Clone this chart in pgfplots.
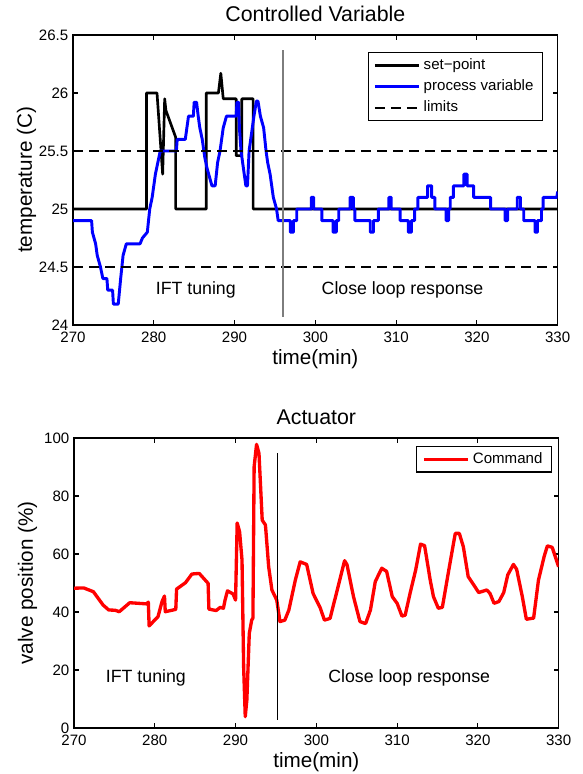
\documentclass[border=0pt]{standalone}
\usepackage{fontspec}
\setmainfont{Liberation Sans}
\usepackage{pgfplots}
\pgfplotsset{compat=1.18}
\definecolor{pvblue}{RGB}{0,0,255}
\definecolor{cmdred}{RGB}{255,0,0}
\definecolor{divgray}{RGB}{125,125,125}

\pgfplotsset{
  mlab/.style={
    scale only axis, width=363.5pt, height=217.5pt,
    xmin=270, xmax=330, xtick={270,280,...,330},
    axis line style={line width=0.8pt},
    every tick/.style={black, line width=0.8pt},
    major tick length=3.4pt,
    tick align=inside,
    /pgf/number format/assume math mode=true,
    tick label style={font=\fontsize{11.3}{13}\selectfont},
    xticklabel style={yshift=-2pt},
    label style={font=\fontsize{15.5}{18}\selectfont},
    xlabel style={at={(axis description cs:0.5,-0.117)}, anchor=center},
    ylabel style={at={(axis description cs:-0.096,0.5)}, anchor=center},
    every axis title shift=0pt,
    title style={at={(axis description cs:0.5,1.072)}, anchor=center, font=\fontsize{16}{19}\selectfont},
    legend cell align=left,
    legend image code/.code={\draw[##1] (0pt,0pt) -- (33pt,0pt);},
    legend style={draw=black, line width=0.8pt, fill=white,
      font=\fontsize{11.3}{13}\selectfont, inner xsep=4pt, inner ysep=2pt, row sep=1pt,
      nodes={text height=8.5pt, text depth=2.5pt, inner xsep=2.5pt, inner ysep=2pt}},
  }
}

\begin{document}
\begin{tikzpicture}
\useasboundingbox (0,0) rectangle (436.5pt,580.5pt);

% top: controlled variable
\begin{axis}[mlab,
  at={(54.75pt,336.75pt)}, anchor=south west,
  ymin=24, ymax=26.5, ytick={24,24.5,25,25.5,26,26.5},
  xlabel={time(min)}, ylabel={temperature (C)},
  title={Controlled Variable},
  legend style={at={(0.969,0.941)}, anchor=north east},
]
\addplot[black, line width=2pt, line join=round] coordinates {
 (270,25.0) (279.1,25.0) (279.1,26.0) (280.4,26.0) (281.1,25.3) (281.35,25.95)
 (281.5,25.85) (282.7,25.62) (282.7,25.0) (286.5,25.0) (286.5,26.0) (288.0,26.0)
 (288.3,26.17) (288.6,25.95) (290.2,25.95) (290.2,25.46) (290.9,25.46) (290.9,25.95)
 (292.3,25.95) (292.3,25.0) (330,25.0)};
\addlegendentry{set−point}
\addplot[pvblue, line width=2.2pt, line join=round] coordinates {
 (270,24.9) (272.3,24.9) (272.4,24.8) (272.8,24.7) (273.0,24.6) (273.4,24.5) (273.7,24.4)
 (274.2,24.4) (274.3,24.3) (274.9,24.3) (275.0,24.18) (275.6,24.18) (275.9,24.4) (276.2,24.6)
 (276.6,24.7) (278.3,24.7) (278.6,24.75) (279.2,24.8) (279.5,25.0) (279.8,25.1) (280.2,25.3)
 (280.5,25.4) (280.8,25.5) (282.8,25.5) (282.9,25.6) (283.9,25.6) (284.3,25.8) (284.9,25.8)
 (285.0,25.92) (285.3,25.92) (285.5,25.8) (285.7,25.7) (286.0,25.6) (286.3,25.45) (286.6,25.35)
 (287.2,25.2) (287.6,25.2) (287.9,25.4) (288.2,25.5) (288.6,25.7) (289.0,25.8) (290.2,25.8)
 (290.3,25.92) (290.5,25.92) (290.6,25.7) (290.8,25.5) (291.0,25.4) (291.2,25.3) (291.4,25.2)
 (291.6,25.2) (291.8,25.5) (292.1,25.65) (292.4,25.8) (292.7,25.93) (292.9,25.93) (293.2,25.8)
 (293.6,25.7) (293.9,25.5) (294.1,25.4) (294.4,25.3) (294.6,25.2) (294.8,25.1) (295.2,25.0)
 (295.4,24.9) (296.9,24.9) (296.9,24.8) (297.3,24.8) (297.3,24.9) (297.7,24.9) (297.7,25.0)
 (299.5,25.0) (299.5,25.1) (299.8,25.1) (299.8,25.0) (300.8,25.0) (300.8,24.9) (302.2,24.9)
 (302.2,24.8) (302.6,24.8) (302.6,24.9) (302.9,24.9) (302.9,25.0) (304.3,25.0) (304.3,25.1)
 (304.7,25.1) (304.7,25.0) (304.9,25.0) (304.9,24.9) (306.8,24.9) (306.8,24.8) (307.2,24.8)
 (307.2,24.9) (307.8,24.9) (307.8,25.0) (309.1,25.0) (309.1,25.1) (309.4,25.1) (309.4,25.0)
 (310.5,25.0) (310.5,24.9) (311.5,24.9) (311.5,24.8) (311.9,24.8) (311.9,24.9) (312.3,24.9)
 (312.3,25.0) (312.7,25.0) (312.7,25.1) (313.9,25.1) (313.9,25.2) (314.4,25.2) (314.4,25.1)
 (314.8,25.1) (314.8,25.0) (316.2,25.0) (316.2,24.9) (316.5,24.9) (316.5,25.0) (316.7,25.0)
 (316.7,25.1) (317.1,25.1) (317.1,25.2) (318.4,25.2) (318.4,25.3) (318.8,25.3) (318.8,25.2)
 (319.6,25.2) (319.6,25.1) (321.7,25.1) (321.7,25.0) (323.5,25.0) (323.5,24.9) (323.8,24.9)
 (323.8,25.0) (325.0,25.0) (325.0,25.1) (325.4,25.1) (325.4,25.0) (325.8,25.0) (325.8,24.9)
 (327.2,24.9) (327.2,24.8) (327.5,24.8) (327.5,24.9) (328.0,24.9) (328.0,25.0) (328.2,25.0)
 (328.2,25.1) (329.9,25.1) (330,25.15)};
\addlegendentry{process variable}
\addplot[black, line width=2pt, dash pattern=on 7.5pt off 4.5pt] coordinates {(270,25.5) (330,25.5)};
\addlegendentry{limits}
\addplot[black, line width=2pt, dash pattern=on 7.5pt off 4.5pt, forget plot] coordinates {(270,24.5) (330,24.5)};
\addplot[divgray, line width=0.9pt, forget plot] coordinates {(296.0,24.07) (296.0,26.37)};
\node[font=\fontsize{13.3}{16}\selectfont] at (axis cs:285.2,24.30) {IFT tuning};
\node[font=\fontsize{13.3}{16}\selectfont] at (axis cs:310.8,24.30) {Close loop response};
\end{axis}

% bottom: actuator
\begin{axis}[mlab,
  at={(55.5pt,34.5pt)}, anchor=south west,
  ymin=0, ymax=100, ytick={0,20,40,60,80,100},
  xlabel={time(min)}, ylabel={valve position (\%)},
  title={Actuator},
  legend style={at={(0.9855,0.972)}, anchor=north east},
]
\addplot[cmdred, line width=2.5pt, line join=round] coordinates {
 (270,48.2) (271.2,48.3) (272.4,47.0) (273.6,42.4) (274.3,40.7) (275.1,40.6) (275.6,40.1)
 (276.9,43.2) (279.0,42.8) (279.2,43.4) (279.3,35.2) (280.4,38.4) (280.9,43.6) (281.2,45.5)
 (281.3,40.1) (282.6,40.9) (282.7,47.9) (283.8,50.1) (284.6,53.1) (285.5,53.3) (286.6,49.9)
 (286.7,41.0) (287.6,40.5) (288.1,41.6) (288.5,41.3) (288.7,44.1) (289.0,47.3) (289.7,46.2)
 (290.0,44.1) (290.2,70.7) (290.5,67.7) (290.8,57.9) (291.0,21.1) (291.2,3.9) (291.4,9.7)
 (291.7,32.6) (292.0,37.2) (292.15,37.9) (292.3,90.1) (292.6,97.8) (292.9,94.7) (293.3,71.7)
 (293.7,70.0) (294.1,55.6) (294.5,47.6) (295.1,44.1) (295.5,36.7) (296.1,37.2) (296.6,40.7)
 (297.4,51.0) (298.0,57.3) (298.8,56.4) (299.6,46.4) (300.5,41.3) (301.0,37.2) (301.7,37.8)
 (302.8,49.9) (303.5,57.7) (303.8,56.3) (304.6,45.3) (305.4,36.7) (306.1,36.0) (306.7,40.7)
 (307.3,50.5) (308.1,55.1) (308.7,54.0) (309.4,45.3) (310.0,43.0) (310.6,38.6) (311.0,38.9)
 (311.6,46.4) (312.3,54.5) (312.9,63.4) (313.4,62.9) (314.1,51.0) (314.5,45.3) (315.1,41.3)
 (315.6,41.6) (316.4,54.5) (317.2,67.1) (317.7,67.1) (318.2,62.5) (318.8,52.2) (319.5,49.3)
 (320.1,46.7) (321.1,47.6) (321.5,46.4) (322.0,43.0) (322.6,43.6) (323.2,46.7) (323.7,52.8)
 (324.4,56.4) (324.8,54.7) (325.5,45.3) (326.0,37.5) (326.9,37.9) (327.5,51.0) (328.2,59.1)
 (328.6,62.8) (329.2,62.3) (330,55.6)};
\addlegendentry{Command}
\addplot[black, line width=0.8pt, forget plot] coordinates {(295.15,2.8) (295.15,94.7)};
\node[font=\fontsize{13.3}{16}\selectfont] at (axis cs:278.9,17.2) {IFT tuning};
\node[font=\fontsize{13.3}{16}\selectfont] at (axis cs:311.5,17.2) {Close loop response};
\end{axis}
\end{tikzpicture}
\end{document}
